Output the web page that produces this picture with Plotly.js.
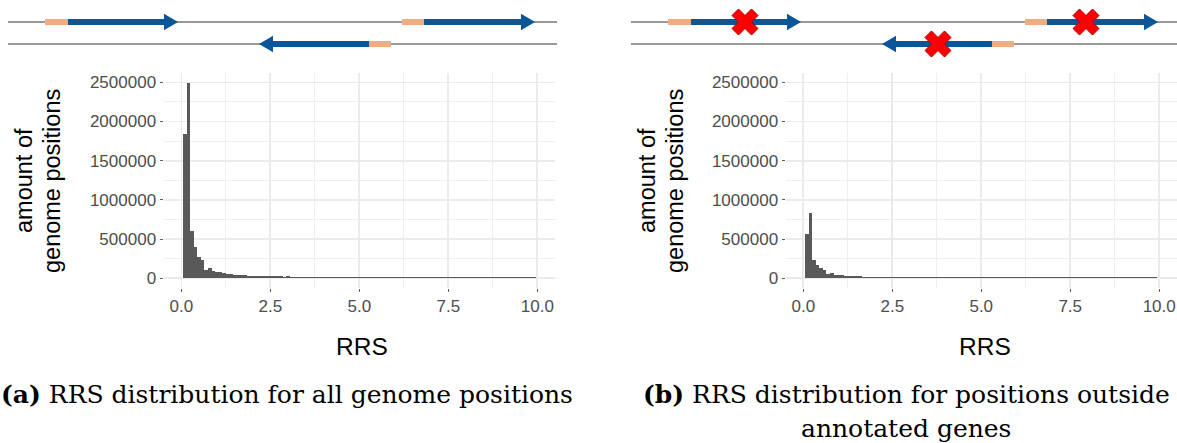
<!DOCTYPE html>
<html><head><meta charset="utf-8">
<script src="https://cdn.plot.ly/plotly-3.0.1.min.js"></script>
<style>html,body{margin:0;padding:0;background:#fff}</style>
</head><body><div id="chart" style="width:1177px;height:443px"></div>
<script>
// ---- histogram data (RRS bins of width 0.1, first bin starts at 0.05) ----
const binStart = 0.05;
const binWidth = 0.1;
const countsAll = [
  1846000, 2491000, 597000, 401000, 277000, 235000, 106000, 136000, 94000, 85000,
  76000, 62000, 57000, 52000, 47000, 43000, 40000, 37000, 34000, 31000,
  30000, 29000, 28000, 27000, 26000, 25000, 25000, 24000, 13000, 24000,
  13000, 22000, 14000, 14000, 14000, 13500, 13500, 13500, 13000, 13000,
  13000, 13000, 13000, 12800, 12800, 12800, 12600, 12600, 12600, 12500,
  12500, 12500, 12400, 12400, 12400, 12300, 12300, 12300, 12200, 12200,
  12200, 12100, 12100, 12100, 12000, 12000, 12000, 12000, 12000, 12000,
  11900, 11900, 11900, 11800, 11800, 11800, 11700, 11700, 11700, 11600,
  11600, 11600, 11500, 11500, 11500, 11500, 11400, 11400, 11400, 11400,
  11300, 11300, 11300, 11300, 11200, 11200, 11200, 11200, 11200
];
const countsOutside = [
  564000, 828000, 235000, 170000, 128000, 110000, 55000, 72000, 46000, 40000,
  37000, 33000, 29000, 27000, 25000, 23000, 21000, 19000, 17000, 16000,
  16000, 15000, 15000, 14000, 11800, 11800, 11700, 11700, 11600, 11600,
  11500, 11500, 11500, 11400, 11400, 11400, 11300, 11300, 11300, 11200,
  11200, 11200, 11100, 11100, 11100, 11000, 11000, 11000, 11000, 11000,
  11000, 11000, 11000, 11000, 11000, 11000, 11000, 11000, 11000, 11000,
  11000, 11000, 11000, 11000, 11000, 11000, 11000, 11000, 11000, 11000,
  11000, 11000, 11000, 11000, 11000, 11000, 11000, 11000, 11000, 11000,
  11000, 11000, 11000, 11000, 11000, 11000, 11000, 11000, 11000, 11000,
  11000, 11000, 11000, 11000, 11000, 11000, 11000, 11000, 11000
];
const xTickVals = [0, 2.5, 5, 7.5, 10];
const xTickText = ['0.0', '2.5', '5.0', '7.5', '10.0'];
const yTickVals = [0, 500000, 1000000, 1500000, 2000000, 2500000];
const yTickText = ['0', '500000', '1000000', '1500000', '2000000', '2500000'];

// ---- schematic gene diagram (genome units along the strand) ----
const strandLen = 549;
const strandRows = [1, 2];
const geneRow = [1, 1, 2];
const geneDir = [1, 1, -1];
const utrStart = [37, 394, 361];
const utrEnd = [60, 416, 383];
const cdsStart = [60, 416, 251];
const cdsEnd = [170, 527, 361];
const mutPos = [114, 455, 307];
const mutRow = [1, 1, 2];

const captionA = '<b>(a)</b> RRS distribution for all genome positions';
const captionB1 = '<b>(b)</b> RRS distribution for positions outside';
const captionB2 = 'annotated genes';
const yTitleLines = ['amount of', 'genome positions'];
const xTitle = 'RRS';

// ---- page geometry helpers ----
const W = 1177, H = 443;
const px = v => v / W;
const py = v => 1 - v / H;

const barColor = '#595959';
const blue = '#0b5699';
const peach = '#f0ad80';
const strandColor = '#777777';

function diagramShapes(xr, yr) {
  const s = [];
  strandRows.forEach(r => s.push({type: 'line', xref: xr, yref: yr, x0: 0, x1: strandLen, y0: r, y1: r,
    line: {color: strandColor, width: 1.6}, layer: 'below'}));
  for (let i = 0; i < geneRow.length; i++) {
    const r = geneRow[i];
    s.push({type: 'line', xref: xr, yref: yr, x0: utrStart[i], x1: utrEnd[i], y0: r, y1: r,
      line: {color: peach, width: 6}, layer: 'below'});
    const head = 14, hh = 0.38;
    let tip, base, lineStart;
    if (geneDir[i] > 0) { tip = cdsEnd[i]; base = tip - head; lineStart = cdsStart[i]; }
    else { tip = cdsStart[i]; base = tip + head; lineStart = cdsEnd[i]; }
    s.push({type: 'line', xref: xr, yref: yr, x0: lineStart, x1: base, y0: r, y1: r,
      line: {color: blue, width: 6}, layer: 'below'});
    s.push({type: 'path', xref: xr, yref: yr,
      path: `M ${base} ${r - hh} L ${tip} ${r} L ${base} ${r + hh} Z`,
      fillcolor: blue, line: {width: 0}, layer: 'below'});
  }
  return s;
}

const traces = [
  {type: 'bar', x0: binStart + binWidth / 2, dx: binWidth, y: countsAll, width: binWidth,
   marker: {color: barColor, line: {width: 0}}, xaxis: 'x', yaxis: 'y', hoverinfo: 'skip'},
  {type: 'bar', x0: binStart + binWidth / 2, dx: binWidth, y: countsOutside, width: binWidth,
   marker: {color: barColor, line: {width: 0}}, xaxis: 'x2', yaxis: 'y2', hoverinfo: 'skip'},
  {type: 'scatter', mode: 'markers', x: [0, strandLen], y: strandRows, marker: {opacity: 0},
   xaxis: 'x3', yaxis: 'y3', hoverinfo: 'skip'},
  {type: 'scatter', mode: 'markers', x: mutPos, y: mutRow,
   marker: {symbol: 'x', size: 23, color: '#ff0000', line: {color: '#b00000', width: 1}},
   xaxis: 'x4', yaxis: 'y4', hoverinfo: 'skip'}
];

const tickFont = {family: 'Liberation Sans, Arial, sans-serif', size: 17, color: '#4d4d4d'};
const grid = '#ebebeb';
function histX(domain, anchor) {
  return {domain, anchor, range: [-0.5, 10.5], tickmode: 'array', tickvals: xTickVals, ticktext: xTickText,
    ticks: 'outside', ticklen: 3, tickcolor: '#333333', tickwidth: 0.8, tickfont: tickFont,
    showgrid: true, gridcolor: grid, gridwidth: 1.6, zeroline: false, showline: false,
    minor: {dtick: 1.25, tick0: 0, showgrid: true, gridcolor: grid, gridwidth: 0.8, ticks: ''},
    fixedrange: true};
}
function histY(anchor) {
  return {domain: [py(288), py(73.3)], anchor, range: [-124550, 2615550], tickmode: 'array',
    tickvals: yTickVals, ticktext: yTickText,
    ticks: 'outside', ticklen: 3, tickcolor: '#333333', tickwidth: 0.8, tickfont: tickFont,
    showgrid: true, gridcolor: grid, gridwidth: 1.6, zeroline: false, showline: false,
    minor: {dtick: 250000, tick0: 0, showgrid: true, gridcolor: grid, gridwidth: 0.8, ticks: ''},
    fixedrange: true};
}
const diagY = anchor => ({domain: [py(58), py(8)], anchor, range: [2.636, 0.364], visible: false, fixedrange: true});

const annFont = {family: 'Liberation Sans, Arial, sans-serif', size: 23.5, color: '#000000'};
const xTitleFont = {family: 'Liberation Sans, Arial, sans-serif', size: 24.5, color: '#000000'};
const capFont = {family: 'DejaVu Serif, serif', size: 25, color: '#000000'};

const ann = [];
[0, 623].forEach(off => {
  ann.push({text: yTitleLines[0], xref: 'paper', yref: 'paper', x: px(24 + off), y: py(181), textangle: -90,
    showarrow: false, xanchor: 'center', yanchor: 'middle', font: annFont});
  ann.push({text: yTitleLines[1], xref: 'paper', yref: 'paper', x: px(52 + off), y: py(181), textangle: -90,
    showarrow: false, xanchor: 'center', yanchor: 'middle', font: annFont});
});
ann.push(
  {text: xTitle, xref: 'paper', yref: 'paper', x: px(362), y: py(346), showarrow: false,
   xanchor: 'center', yanchor: 'middle', font: xTitleFont},
  {text: xTitle, xref: 'paper', yref: 'paper', x: px(985), y: py(346), showarrow: false,
   xanchor: 'center', yanchor: 'middle', font: xTitleFont},
  {text: captionA, xref: 'paper', yref: 'paper', x: px(287), y: py(394), showarrow: false,
   xanchor: 'center', yanchor: 'middle', font: capFont},
  {text: captionB1, xref: 'paper', yref: 'paper', x: px(906), y: py(394), showarrow: false,
   xanchor: 'center', yanchor: 'middle', font: capFont},
  {text: captionB2, xref: 'paper', yref: 'paper', x: px(906), y: py(428), showarrow: false,
   xanchor: 'center', yanchor: 'middle', font: capFont}
);

const layout = {
  width: W, height: H, margin: {l: 0, r: 0, t: 0, b: 0}, paper_bgcolor: '#ffffff', plot_bgcolor: 'rgba(0,0,0,0)',
  showlegend: false, bargap: 0,
  xaxis: histX([px(163.5), px(555.1)], 'y'),
  yaxis: histY('x'),
  xaxis2: histX([px(785.5), 1], 'y2'),
  yaxis2: histY('x2'),
  xaxis3: {domain: [px(8), px(557)], anchor: 'y3', range: [0, strandLen], visible: false, fixedrange: true},
  yaxis3: diagY('x3'),
  xaxis4: {domain: [px(631), 1], anchor: 'y4', range: [0, 1177 - 631], visible: false, fixedrange: true},
  yaxis4: diagY('x4'),
  shapes: diagramShapes('x3', 'y3').concat(diagramShapes('x4', 'y4')),
  annotations: ann
};

Plotly.newPlot('chart', traces, layout, {displayModeBar: false, staticPlot: true});
</script>
</body></html>
